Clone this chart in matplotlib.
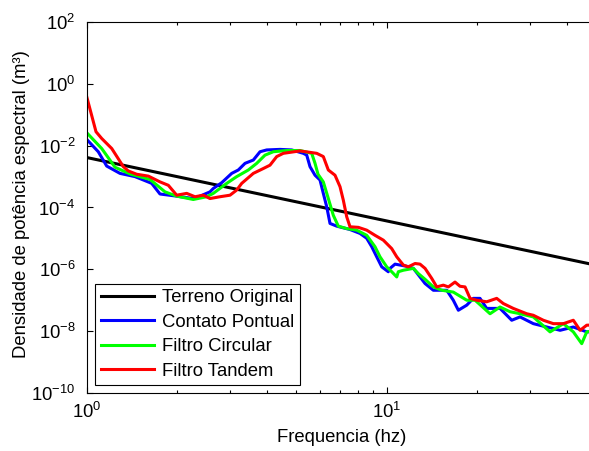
import matplotlib
matplotlib.use("Agg")
import matplotlib.pyplot as plt
from matplotlib.ticker import FixedLocator, FixedFormatter, LogLocator, NullLocator, NullFormatter

plt.rcParams['font.family'] = ['Liberation Sans', 'DejaVu Sans']
plt.rcParams['mathtext.fontset'] = 'custom'
plt.rcParams['mathtext.rm'] = 'Liberation Sans'
plt.rcParams['mathtext.it'] = 'Liberation Sans:italic'

# ---- data ----
labels = ["Terreno Original", "Contato Pontual", "Filtro Circular", "Filtro Tandem"]
colors = ["#000000", "#0000ff", "#00ff00", "#ff0000"]

terreno_freq = [1.0, 50.0]
terreno_psd = [4.1e-3, 1.36e-6]

contato_freq = [1.000, 1.093, 1.166, 1.291, 1.449, 1.647, 1.755, 1.995, 2.266, 2.386,
                2.576, 2.642, 2.818, 3.043, 3.201, 3.371, 3.592, 3.782, 3.981, 4.410,
                4.823, 5.272, 5.412, 5.551, 5.768, 5.993, 6.147, 6.310, 6.471, 6.813,
                7.545, 8.147, 8.577, 8.913, 9.261, 9.624, 10.12, 10.26, 10.66, 11.66,
                12.27, 13.42, 14.30, 15.85, 16.67, 17.33, 18.48, 19.44, 20.46, 21.54,
                23.86, 26.10, 27.82, 30.81, 34.15, 37.84, 41.88, 46.42, 50.0]
contato_psd = [1.58e-2, 6.3e-3, 2.17e-3, 1.26e-3, 9.9e-4, 6.0e-4, 2.72e-4, 2.32e-4, 1.94e-4, 2.32e-4,
               3.19e-4, 4.1e-4, 6.3e-4, 1.26e-3, 1.62e-3, 2.66e-3, 3.4e-3, 6.3e-3, 7.2e-3, 7.5e-3,
               7.2e-3, 5.6e-3, 4.9e-3, 2.07e-3, 1.10e-3, 7.7e-4, 2.85e-4, 1.05e-4, 3.05e-5, 2.49e-5,
               1.94e-5, 1.45e-5, 1.01e-5, 5.4e-6, 2.55e-6, 1.21e-6, 8.4e-7, 1.08e-6, 1.48e-6, 1.26e-6,
               1.08e-6, 3.5e-7, 2.12e-7, 2.12e-7, 1.01e-7, 4.8e-8, 7.0e-8, 1.16e-7, 1.16e-7, 5.5e-8,
               5.5e-8, 2.28e-8, 2.92e-8, 1.77e-8, 1.38e-8, 1.08e-8, 1.38e-8, 9.6e-9, 9.6e-9]

circular_freq = [1.000, 1.122, 1.243, 1.394, 1.626, 1.824, 1.995, 2.266, 2.512, 2.642,
                 2.929, 3.162, 3.457, 3.687, 3.930, 4.188, 4.642, 5.140, 5.623, 5.768,
                 5.902, 6.147, 6.388, 6.637, 6.897, 7.356, 7.943, 8.577, 9.141, 9.499,
                 10.00, 10.39, 10.80, 10.93, 11.36, 12.27, 12.75, 13.42, 14.30, 15.26,
                 16.67, 18.48, 19.70, 22.10, 23.86, 25.76, 27.82, 30.81, 35.03, 38.81,
                 41.88, 44.67, 46.42, 50.0]
circular_psd = [2.60e-2, 8.0e-3, 1.99e-3, 1.21e-3, 8.0e-4, 3.19e-4, 2.32e-4, 1.81e-4, 2.22e-4, 2.85e-4,
                6.0e-4, 9.9e-4, 1.62e-3, 2.66e-3, 4.9e-3, 6.3e-3, 6.9e-3, 6.9e-3, 5.6e-3, 2.66e-3,
                1.18e-3, 6.7e-4, 1.94e-4, 5.6e-5, 2.49e-5, 2.08e-5, 1.85e-5, 1.26e-5, 5.4e-6, 2.55e-6,
                1.21e-6, 8.4e-7, 5.7e-7, 8.4e-7, 9.4e-7, 1.08e-6, 7.3e-7, 4.8e-7, 2.72e-7, 2.12e-7,
                1.85e-7, 1.01e-7, 1.01e-7, 3.7e-8, 6.1e-8, 4.3e-8, 3.7e-8, 2.92e-8, 9.6e-9, 1.77e-8,
                9.6e-9, 4.0e-9, 9.6e-9, 1.1e-8]

tandem_freq = [1.000, 1.074, 1.122, 1.212, 1.325, 1.376, 1.468, 1.605, 1.755, 1.871,
               1.995, 2.154, 2.296, 2.447, 2.576, 2.782, 3.004, 3.162, 3.286, 3.592,
               3.879, 4.083, 4.299, 4.523, 5.140, 5.843, 6.147, 6.388, 6.724, 6.987,
               7.166, 7.356, 7.545, 8.041, 8.577, 9.141, 9.743, 10.39, 10.80, 11.36,
               11.80, 12.43, 12.91, 13.42, 14.13, 14.68, 15.44, 16.05, 16.89, 17.55,
               18.24, 18.96, 19.95, 21.54, 23.26, 24.47, 26.42, 29.29, 30.81, 33.27,
               35.93, 38.81, 41.88, 44.11, 46.42, 50.0]
tandem_psd = [0.378, 2.79e-2, 1.69e-2, 8.0e-3, 2.07e-3, 1.51e-3, 1.18e-3, 1.03e-3, 6.7e-4, 5.2e-4,
              2.49e-4, 2.85e-4, 2.22e-4, 2.49e-4, 1.94e-4, 2.22e-4, 2.49e-4, 3.65e-4, 6.0e-4, 1.26e-3,
              1.81e-3, 2.32e-3, 4.4e-3, 5.6e-3, 6.7e-3, 5.6e-3, 4.4e-3, 1.62e-3, 1.10e-3, 4.7e-4,
              1.73e-4, 5.0e-5, 2.38e-5, 2.28e-5, 1.85e-5, 1.26e-5, 8.8e-6, 4.7e-6, 2.55e-6, 1.38e-6,
              1.21e-6, 1.55e-6, 1.48e-6, 1.08e-6, 5.1e-7, 2.72e-7, 3.1e-7, 2.72e-7, 3.9e-7, 2.85e-7,
              2.72e-7, 1.16e-7, 1.01e-7, 9.0e-8, 1.16e-7, 7.9e-8, 5.5e-8, 3.7e-8, 3.3e-8, 2.28e-8,
              1.77e-8, 1.77e-8, 2.28e-8, 1.08e-8, 1.58e-8, 1.6e-8]

xlim = (1.0, 50.0)
ylim = (1e-10, 1e2)
ytick_vals = [1e-10, 1e-8, 1e-6, 1e-4, 1e-2, 1e0, 1e2]
ytick_labels = [r"$\mathregular{10^{-10}}$", r"$\mathregular{10^{-8}}$", r"$\mathregular{10^{-6}}$",
                r"$\mathregular{10^{-4}}$", r"$\mathregular{10^{-2}}$", r"$\mathregular{10^{0}}$",
                r"$\mathregular{10^{2}}$"]
xtick_vals = [1, 10]
xtick_labels = [r"$\mathregular{10^{0}}$", r"$\mathregular{10^{1}}$"]

# ---- figure ----
fig = plt.figure(figsize=(5.89, 4.51), dpi=100)
ax = fig.add_axes([0.1472, 0.128, 0.8654, 0.824])

series = [(terreno_freq, terreno_psd), (contato_freq, contato_psd),
          (circular_freq, circular_psd), (tandem_freq, tandem_psd)]
for (f, p), lab, c in zip(series, labels, colors):
    ax.plot(f, p, color=c, lw=2.2, label=lab)

ax.set_xscale('log')
ax.set_yscale('log')
ax.set_xlim(*xlim)
ax.set_ylim(*ylim)

ax.yaxis.set_major_locator(FixedLocator(ytick_vals))
ax.yaxis.set_major_formatter(FixedFormatter(ytick_labels))
ax.yaxis.set_minor_locator(NullLocator())
ax.xaxis.set_major_locator(FixedLocator(xtick_vals))
ax.xaxis.set_major_formatter(FixedFormatter(xtick_labels))
ax.xaxis.set_minor_locator(LogLocator(base=10, subs=range(2, 10)))
ax.xaxis.set_minor_formatter(NullFormatter())

ax.tick_params(which='both', direction='in', top=True, right=True, labelsize=13.3, width=0.8)
ax.tick_params(which='major', length=4)
ax.tick_params(which='minor', length=2.5)
ax.tick_params(axis='y', pad=8)
ax.tick_params(axis='x', pad=6)
for s in ax.spines.values():
    s.set_linewidth(0.8)

ax.set_xlabel("Frequencia (hz)", fontsize=13.3, labelpad=5)
ax.set_ylabel("Densidade de potência espectral (m³)", fontsize=13.3)
ax.yaxis.set_label_coords(-0.112, 0.51)

leg = ax.legend(loc='lower left', bbox_to_anchor=(0.017, 0.022), borderaxespad=0,
                fontsize=13.3, handlelength=2.9, handletextpad=0.4, labelspacing=0.4,
                borderpad=0.3, fancybox=False, framealpha=1, edgecolor='black')
leg.get_frame().set_linewidth(0.8)

fig.savefig("out.png", dpi=100)
